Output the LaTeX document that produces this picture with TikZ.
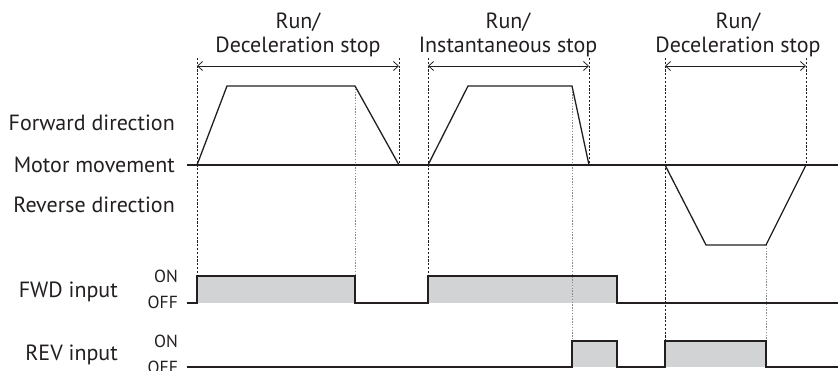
\documentclass[tikz,border=0pt]{standalone}
\usepackage{fontspec}
\setmainfont{PT Sans}
\usetikzlibrary{arrows.meta}
\definecolor{ink}{HTML}{231F20}
\definecolor{fillgray}{HTML}{D1D3D4}
\definecolor{dotgray}{HTML}{8A8C8E}
\tikzset{
  sig/.style={ink, line width=1.3pt, line join=miter},
  onfill/.style={fill=fillgray, draw=none},
  vblack/.style={ink, line width=0.75pt, dash pattern=on 2.2pt off 1.6pt},
  vgray/.style={dotgray, line width=1pt, dash pattern=on 1.4pt off 1.4pt},
  span/.style={ink, line width=0.8pt, {Straight Barb[length=5pt,width=9pt]}-{Straight Barb[length=5pt,width=9pt]}},
  lab/.style={font=\fontsize{22}{24}\selectfont, inner sep=0pt, anchor=base east, text=ink},
  small/.style={font=\fontsize{17.5}{19}\selectfont, inner sep=0pt, anchor=base east, text=ink},
  title/.style={font=\fontsize{22}{24}\selectfont, inner sep=0pt, anchor=base, text=ink},
}
\begin{document}
\begin{tikzpicture}[x=1pt,y=-1pt]
\useasboundingbox (0,0) rectangle (838,370);
% key coordinates
\coordinate (mL) at (187,165);
\coordinate (mR) at (838,165);
% labels
\node[lab] (fwddir) at (175,130) {Forward direction};
\node[lab] (motor) at (175,172) {Motor movement};
\node[lab] (revdir) at (175,212) {Reverse direction};
\node[lab] (fwdin) at (118,297) {FWD input};
\node[lab] (revin) at (118,360) {REV input};
\node[small] (on1) at (178,282) {ON};
\node[small] (off1) at (178,308) {OFF};
\node[small] (on2) at (178,347) {ON};
\node[small] (off2) at (178,373) {OFF};
% titles
\node[title] (t1a) at (298,28) {Run/};
\node[title] (t1b) at (298,52) {Deceleration stop};
\node[title] (t2a) at (508,28) {Run/};
\node[title] (t2b) at (508,52) {Instantaneous stop};
\node[title] (t3a) at (738,28) {Run/};
\node[title] (t3b) at (738,52) {Deceleration stop};
% fills
\fill[onfill] (197,276) rectangle (355,303);
\fill[onfill] (428,276) rectangle (617,303);
\fill[onfill] (572,341) rectangle (617,367);
\fill[onfill] (665,341) rectangle (766,367);
% vertical guides
\draw[vblack] (197,58) -- (197,276);
\draw[vblack] (399,58) -- (399,165);
\draw[vblack] (428,58) -- (428,276);
\draw[vblack] (589,58) -- (589,165);
\draw[vblack] (665,58) -- (665,341);
\draw[vblack] (806,58) -- (806,165);
\draw[vgray] (355,86) -- (355,276);
\draw[vgray] (572,86) -- (572,341);
\draw[vgray] (766,245) -- (766,341);
% span arrows
\coordinate (a1l) at (197,66); \coordinate (a1r) at (399,66);
\coordinate (a2l) at (428,66); \coordinate (a2r) at (589,66);
\coordinate (a3l) at (665,66); \coordinate (a3r) at (806,66);
\draw[span] (a1l) -- (a1r);
\draw[span] (a2l) -- (a2r);
\draw[span] (a3l) -- (a3r);
% motor movement
\draw[sig] (mL) -- (mR);
\draw[sig] (197,165) -- (227,86) -- (355,86) -- (399,165);
\draw[sig] (428,165) -- (468,86) -- (572,86) -- (589,165);
\draw[sig] (665,165) -- (706,245) -- (766,245) -- (806,165);
% FWD input
\draw[sig] (187,303) -- (197,303) -- (197,276) -- (355,276) -- (355,303)
  -- (428,303) -- (428,276) -- (617,276) -- (617,303) -- (838,303);
% REV input
\draw[sig] (187,367) -- (572,367) -- (572,341) -- (617,341) -- (617,367)
  -- (665,367) -- (665,341) -- (766,341) -- (766,367) -- (838,367);
\end{tikzpicture}
\end{document}
